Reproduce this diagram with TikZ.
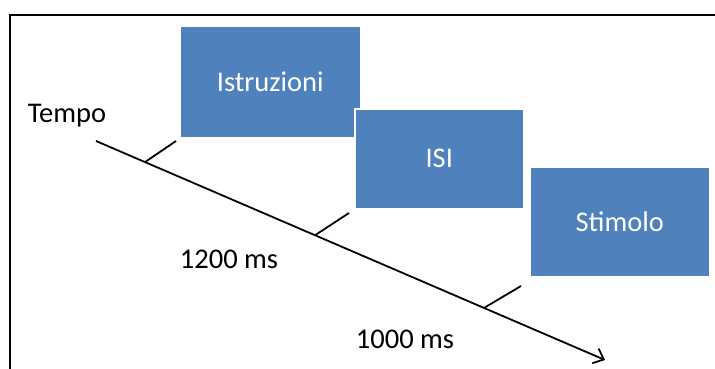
\documentclass[tikz,border=0pt]{standalone}
\usepackage{fontspec}
\setmainfont{Carlito}
\usetikzlibrary{arrows.meta,calc}
\definecolor{boxblue}{HTML}{4F81BD}
\tikzset{
  phase/.style={draw=white, line width=1.5pt, fill=boxblue, text=white,
    font=\fontsize{28.5}{34}\selectfont, inner sep=0pt, anchor=north west},
  label/.style={font=\fontsize{28.5}{34}\selectfont, text=black, inner sep=0pt},
  axis/.style={line width=1.8pt, -{Straight Barb[length=9pt,width=16pt,line width=1.8pt]}},
  tick/.style={line width=1.8pt}
}
\begin{document}
\begin{tikzpicture}[x=1pt,y=-1pt]
\useasboundingbox (0,0) rectangle (715,369);
% frame
\draw[line width=1.6pt] (10,369) -- (10,15) -- (715,15);
% phases of the trial
\node[phase, minimum width=181pt, minimum height=111pt] (istr) at (179,26) {Istruzioni};
\node[phase, minimum width=169pt, minimum height=100pt] (isi) at (354,108) {ISI};
\node[phase, minimum width=180pt, minimum height=110pt] (stim) at (529,166) {Stimolo};
% time axis
\coordinate (t0) at (96,141);
\coordinate (t1) at (605,360);
\draw[axis] (t0) -- (t1);
\coordinate (k1) at ($(t0)!0.0963!(t1)$);
\coordinate (k2) at ($(t0)!0.4303!(t1)$);
\coordinate (k3) at ($(t0)!0.7623!(t1)$);
\coordinate (e1) at (176,141);
\coordinate (e2) at (349,213);
\coordinate (e3) at (521,286);
\draw[tick] (k1) -- (e1);
\draw[tick] (k2) -- (e2);
\draw[tick] (k3) -- (e3);
% labels
\node[label] (tempo) at (67,116) {Tempo};
\node[label] (d1) at (229,259) {1200 ms};
\node[label] (d2) at (405,339) {1000 ms};
\end{tikzpicture}
\end{document}
